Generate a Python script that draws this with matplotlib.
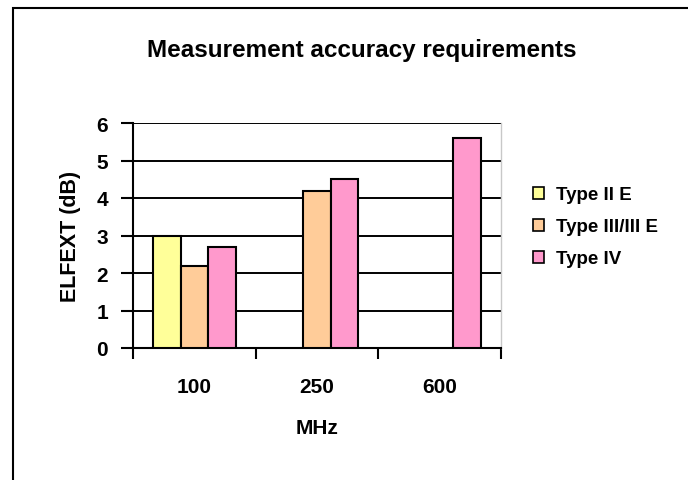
import matplotlib
matplotlib.use("Agg")
import matplotlib.pyplot as plt
import numpy as np
from matplotlib.patches import Rectangle

plt.rcParams['font.family'] = ['Liberation Sans', 'DejaVu Sans']
plt.rcParams['font.weight'] = 'bold'

categories = ["100", "250", "600"]
series_names = ["Type II E", "Type III/III E", "Type IV"]
type_2e = [3.0, np.nan, np.nan]
type_3 = [2.2, 4.2, np.nan]
type_4 = [2.7, 4.5, 5.6]
colors = ["#FFFF99", "#FFCC99", "#FF99CC"]
yticks = [0, 1, 2, 3, 4, 5, 6]

fig = plt.figure(figsize=(6.88, 4.81), dpi=100)
ax = fig.add_axes([133/688, 1-349/481, (501-133)/688, (349-124)/481])

x = np.arange(len(categories))
w = 0.224
for i, (vals, name, c) in enumerate(zip([type_2e, type_3, type_4], series_names, colors)):
    ax.bar(x + (i-1)*w, vals, width=w, color=c, edgecolor='black', linewidth=1.5,
           label=name, zorder=3)

fs = 15
ax.set_xlim(-0.5, 2.5)
ax.set_ylim(0, 6)
ax.set_yticks(yticks)
ax.set_yticklabels([str(t) for t in yticks], fontsize=fs, fontweight='bold')
ax.yaxis.grid(True, color='black', linewidth=1.4, zorder=0)
ax.set_axisbelow(True)

ax.set_xticks([-0.5, 0.5, 1.5, 2.5])
ax.set_xticklabels([])
ax.set_xticks(x, minor=True)
ax.set_xticklabels(categories, minor=True, fontsize=fs, fontweight='bold')
ax.tick_params(axis='x', which='minor', length=0, pad=21)
ax.tick_params(axis='x', which='major', length=8, width=1.5)
ax.tick_params(axis='y', length=9, width=1.5, pad=9)

for s in ['left', 'bottom']:
    ax.spines[s].set_linewidth(1.5)
ax.spines['top'].set_visible(False)
ax.spines['right'].set_color('#c8c8c8')
ax.spines['right'].set_linewidth(1.0)

ax.set_xlabel("MHz", fontsize=fs, fontweight='bold', labelpad=16)
ax.set_ylabel("ELFEXT (dB)", fontsize=15.5, fontweight='bold', labelpad=11)

fig.text(362 / 688, 1 - 50/481, "Measurement accuracy requirements",
         ha='center', va='center', fontsize=17.5, fontweight='bold')

leg = ax.legend(loc='center left', bbox_to_anchor=(533/688, 1 - 228/481),
                bbox_transform=fig.transFigure, frameon=False, fontsize=13.5,
                handlelength=0.6, handleheight=0.6, handletextpad=0.6,
                labelspacing=0.8, borderpad=0, borderaxespad=0)
for t in leg.get_texts():
    t.set_fontweight('bold')
for h in leg.legend_handles:
    h.set_linewidth(1.2)

fig.patches.append(Rectangle((13/688, -0.1), 1.2, 1 - 9/481 + 0.1, transform=fig.transFigure,
                             fill=False, edgecolor='black', linewidth=1.5, zorder=10))

fig.savefig("out.png", dpi=100)
